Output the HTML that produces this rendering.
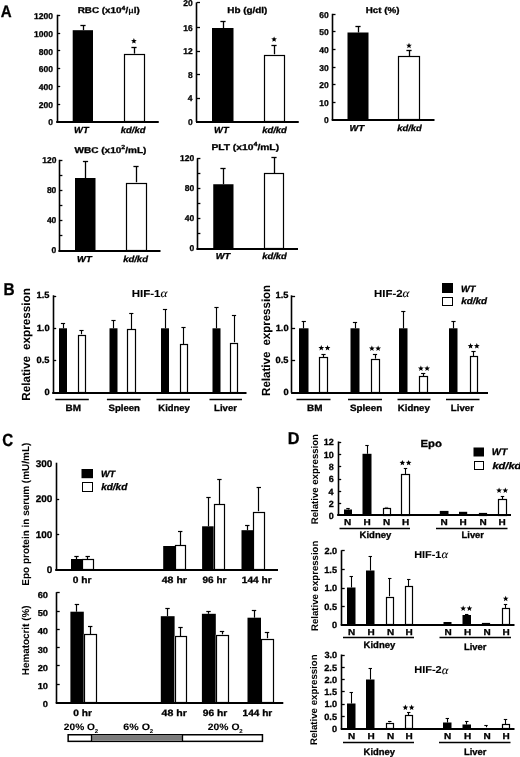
<!DOCTYPE html>
<html><head><meta charset="utf-8"><style>
html,body{margin:0;padding:0;background:#fff;width:520px;height:757px;overflow:hidden}
svg{display:block;filter:grayscale(1)}
text{stroke:#000;stroke-width:0.3px;text-rendering:geometricPrecision}
</style></head><body>
<svg width="520" height="757" viewBox="0 0 520 757">
<rect width="520" height="757" fill="#fff"/>
<text x="0.82" y="16.80" font-family="Liberation Sans" font-weight="bold" font-style="normal" font-size="16.666666666666668" textLength="10.89" lengthAdjust="spacingAndGlyphs">A</text>
<text x="3.40" y="294.50" font-family="Liberation Sans" font-weight="bold" font-style="normal" font-size="17.24637681159417" textLength="11.13" lengthAdjust="spacingAndGlyphs">B</text>
<text x="2.20" y="445.70" font-family="Liberation Sans" font-weight="bold" font-style="normal" font-size="17.714285714285683" textLength="10.92" lengthAdjust="spacingAndGlyphs">C</text>
<text x="287.74" y="443.50" font-family="Liberation Sans" font-weight="bold" font-style="normal" font-size="17.24637681159417" textLength="11.74" lengthAdjust="spacingAndGlyphs">D</text>
<line x1="57.5" y1="14.8" x2="57.5" y2="121.75" stroke="#000" stroke-width="1.6"/>
<line x1="57.0" y1="15.5" x2="60.2" y2="15.5" stroke="#000" stroke-width="1.3"/>
<line x1="57.0" y1="33.5" x2="60.2" y2="33.5" stroke="#000" stroke-width="1.3"/>
<line x1="57.0" y1="50.5" x2="60.2" y2="50.5" stroke="#000" stroke-width="1.3"/>
<line x1="57.0" y1="68.5" x2="60.2" y2="68.5" stroke="#000" stroke-width="1.3"/>
<line x1="57.0" y1="86.5" x2="60.2" y2="86.5" stroke="#000" stroke-width="1.3"/>
<line x1="57.0" y1="104.5" x2="60.2" y2="104.5" stroke="#000" stroke-width="1.3"/>
<text x="34.03" y="19.03" font-family="Liberation Sans" font-weight="bold" font-style="normal" font-size="8.5" textLength="18.91" lengthAdjust="spacingAndGlyphs">1200</text>
<text x="34.03" y="36.93" font-family="Liberation Sans" font-weight="bold" font-style="normal" font-size="8.5" textLength="18.91" lengthAdjust="spacingAndGlyphs">1000</text>
<text x="38.79" y="54.63" font-family="Liberation Sans" font-weight="bold" font-style="normal" font-size="8.5" textLength="14.18" lengthAdjust="spacingAndGlyphs">800</text>
<text x="38.79" y="72.33" font-family="Liberation Sans" font-weight="bold" font-style="normal" font-size="8.5" textLength="14.18" lengthAdjust="spacingAndGlyphs">600</text>
<text x="38.79" y="90.13" font-family="Liberation Sans" font-weight="bold" font-style="normal" font-size="8.5" textLength="14.18" lengthAdjust="spacingAndGlyphs">400</text>
<text x="38.79" y="108.03" font-family="Liberation Sans" font-weight="bold" font-style="normal" font-size="8.5" textLength="14.18" lengthAdjust="spacingAndGlyphs">200</text>
<text x="48.22" y="124.93" font-family="Liberation Sans" font-weight="bold" font-style="normal" font-size="8.5" textLength="4.73" lengthAdjust="spacingAndGlyphs">0</text>
<line x1="83.5" y1="25.5" x2="83.5" y2="30.2" stroke="#000" stroke-width="1.3"/>
<line x1="80.4" y1="25.5" x2="85.6" y2="25.5" stroke="#000" stroke-width="1.3"/>
<rect x="72.7" y="30.2" width="20.30" height="90.80" fill="#000"/>
<line x1="134.5" y1="47" x2="134.5" y2="53.8" stroke="#000" stroke-width="1.3"/>
<line x1="131.4" y1="47.5" x2="136.6" y2="47.5" stroke="#000" stroke-width="1.3"/>
<rect x="123.75" y="53.8" width="20.75" height="67.70" fill="#fff"/>
<rect x="124.5" y="54.5" width="20.0" height="67.0" fill="none" stroke="#000" stroke-width="1.2"/>
<line x1="56.2" y1="122" x2="158.75" y2="122" stroke="#000" stroke-width="2"/>
<polygon points="133.90,38.10 134.66,40.05 136.75,40.17 135.14,41.50 135.66,43.53 133.90,42.40 132.14,43.53 132.66,41.50 131.05,40.17 133.14,40.05" fill="#000"/>
<text x="74.10" y="132.50" font-family="Liberation Sans" font-weight="bold" font-style="italic" font-size="8.8" textLength="14.54" lengthAdjust="spacingAndGlyphs">WT</text>
<text x="120.86" y="132.50" font-family="Liberation Sans" font-weight="bold" font-style="italic" font-size="8.8" textLength="24.57" lengthAdjust="spacingAndGlyphs">kd/kd</text>
<text x="77.66" y="12.90" font-family="Liberation Sans" font-weight="bold" font-style="normal" font-size="8.40" textLength="43.91" lengthAdjust="spacingAndGlyphs">RBC (x10</text>
<text x="121.57" y="9.60" font-family="Liberation Sans" font-weight="bold" font-style="normal" font-size="5.88" textLength="3.85" lengthAdjust="spacingAndGlyphs">4</text>
<text x="125.42" y="12.90" font-family="Liberation Sans" font-weight="bold" font-style="normal" font-size="8.40" textLength="2.74" lengthAdjust="spacingAndGlyphs">/</text>
<text x="128.16" y="12.90" font-family="Liberation Serif" font-weight="normal" font-style="normal" font-size="8.82" textLength="5.56" lengthAdjust="spacingAndGlyphs">μ</text>
<text x="133.72" y="12.90" font-family="Liberation Sans" font-weight="bold" font-style="normal" font-size="8.40" textLength="6.03" lengthAdjust="spacingAndGlyphs">l)</text>
<line x1="196.5" y1="2.4" x2="196.5" y2="122" stroke="#000" stroke-width="1.6"/>
<line x1="196.8" y1="2.5" x2="200.0" y2="2.5" stroke="#000" stroke-width="1.3"/>
<line x1="196.8" y1="27.5" x2="200.0" y2="27.5" stroke="#000" stroke-width="1.3"/>
<line x1="196.8" y1="51.5" x2="200.0" y2="51.5" stroke="#000" stroke-width="1.3"/>
<line x1="196.8" y1="74.5" x2="200.0" y2="74.5" stroke="#000" stroke-width="1.3"/>
<line x1="196.8" y1="98.5" x2="200.0" y2="98.5" stroke="#000" stroke-width="1.3"/>
<text x="183.30" y="6.33" font-family="Liberation Sans" font-weight="bold" font-style="normal" font-size="8.5" textLength="9.45" lengthAdjust="spacingAndGlyphs">20</text>
<text x="183.26" y="30.53" font-family="Liberation Sans" font-weight="bold" font-style="normal" font-size="8.5" textLength="9.45" lengthAdjust="spacingAndGlyphs">16</text>
<text x="183.31" y="54.38" font-family="Liberation Sans" font-weight="bold" font-style="normal" font-size="8.5" textLength="9.45" lengthAdjust="spacingAndGlyphs">12</text>
<text x="187.94" y="77.73" font-family="Liberation Sans" font-weight="bold" font-style="normal" font-size="8.5" textLength="4.73" lengthAdjust="spacingAndGlyphs">8</text>
<text x="187.72" y="101.43" font-family="Liberation Sans" font-weight="bold" font-style="normal" font-size="8.5" textLength="4.73" lengthAdjust="spacingAndGlyphs">4</text>
<text x="188.02" y="124.53" font-family="Liberation Sans" font-weight="bold" font-style="normal" font-size="8.5" textLength="4.73" lengthAdjust="spacingAndGlyphs">0</text>
<line x1="223.5" y1="21.5" x2="223.5" y2="28" stroke="#000" stroke-width="1.3"/>
<line x1="220.4" y1="21.5" x2="225.6" y2="21.5" stroke="#000" stroke-width="1.3"/>
<rect x="212" y="28" width="21.50" height="93.50" fill="#000"/>
<line x1="274.5" y1="45.5" x2="274.5" y2="54.5" stroke="#000" stroke-width="1.3"/>
<line x1="271.4" y1="45.5" x2="276.6" y2="45.5" stroke="#000" stroke-width="1.3"/>
<rect x="263.5" y="54.5" width="21.00" height="67.50" fill="#fff"/>
<rect x="264.5" y="55.5" width="20.0" height="66.0" fill="none" stroke="#000" stroke-width="1.2"/>
<line x1="196.0" y1="122" x2="298.75" y2="122" stroke="#000" stroke-width="2"/>
<polygon points="274.10,36.40 274.86,38.35 276.95,38.47 275.34,39.80 275.86,41.83 274.10,40.70 272.34,41.83 272.86,39.80 271.25,38.47 273.34,38.35" fill="#000"/>
<text x="214.10" y="132.50" font-family="Liberation Sans" font-weight="bold" font-style="italic" font-size="8.8" textLength="14.54" lengthAdjust="spacingAndGlyphs">WT</text>
<text x="262.16" y="132.50" font-family="Liberation Sans" font-weight="bold" font-style="italic" font-size="8.8" textLength="24.67" lengthAdjust="spacingAndGlyphs">kd/kd</text>
<text x="227.26" y="13.10" font-family="Liberation Sans" font-weight="bold" font-style="normal" font-size="8.4" textLength="40.13" lengthAdjust="spacingAndGlyphs">Hb (g/dl)</text>
<line x1="332.5" y1="13.8" x2="332.5" y2="120" stroke="#000" stroke-width="1.6"/>
<line x1="332.3" y1="14.5" x2="335.5" y2="14.5" stroke="#000" stroke-width="1.3"/>
<line x1="332.3" y1="31.5" x2="335.5" y2="31.5" stroke="#000" stroke-width="1.3"/>
<line x1="332.3" y1="49.5" x2="335.5" y2="49.5" stroke="#000" stroke-width="1.3"/>
<line x1="332.3" y1="67.5" x2="335.5" y2="67.5" stroke="#000" stroke-width="1.3"/>
<line x1="332.3" y1="84.5" x2="335.5" y2="84.5" stroke="#000" stroke-width="1.3"/>
<line x1="332.3" y1="102.5" x2="335.5" y2="102.5" stroke="#000" stroke-width="1.3"/>
<text x="319.20" y="17.83" font-family="Liberation Sans" font-weight="bold" font-style="normal" font-size="8.5" textLength="9.45" lengthAdjust="spacingAndGlyphs">60</text>
<text x="319.21" y="35.48" font-family="Liberation Sans" font-weight="bold" font-style="normal" font-size="8.5" textLength="9.45" lengthAdjust="spacingAndGlyphs">50</text>
<text x="319.20" y="53.13" font-family="Liberation Sans" font-weight="bold" font-style="normal" font-size="8.5" textLength="9.45" lengthAdjust="spacingAndGlyphs">40</text>
<text x="319.21" y="70.78" font-family="Liberation Sans" font-weight="bold" font-style="normal" font-size="8.5" textLength="9.45" lengthAdjust="spacingAndGlyphs">30</text>
<text x="319.20" y="88.43" font-family="Liberation Sans" font-weight="bold" font-style="normal" font-size="8.5" textLength="9.45" lengthAdjust="spacingAndGlyphs">20</text>
<text x="319.21" y="106.08" font-family="Liberation Sans" font-weight="bold" font-style="normal" font-size="8.5" textLength="9.45" lengthAdjust="spacingAndGlyphs">10</text>
<text x="323.92" y="123.13" font-family="Liberation Sans" font-weight="bold" font-style="normal" font-size="8.5" textLength="4.73" lengthAdjust="spacingAndGlyphs">0</text>
<line x1="358.5" y1="26.2" x2="358.5" y2="32.5" stroke="#000" stroke-width="1.3"/>
<line x1="355.4" y1="26.5" x2="360.6" y2="26.5" stroke="#000" stroke-width="1.3"/>
<rect x="347.5" y="32.5" width="21.00" height="87.00" fill="#000"/>
<line x1="409.5" y1="50.6" x2="409.5" y2="56.0" stroke="#000" stroke-width="1.3"/>
<line x1="406.4" y1="50.5" x2="411.6" y2="50.5" stroke="#000" stroke-width="1.3"/>
<rect x="398.1" y="56.0" width="21.50" height="64.00" fill="#fff"/>
<rect x="398.5" y="56.5" width="21.0" height="63.0" fill="none" stroke="#000" stroke-width="1.2"/>
<line x1="331.7" y1="120" x2="434.5" y2="120" stroke="#000" stroke-width="2"/>
<polygon points="409.00,42.70 409.76,44.65 411.85,44.77 410.24,46.10 410.76,48.13 409.00,47.00 407.24,48.13 407.76,46.10 406.15,44.77 408.24,44.65" fill="#000"/>
<text x="349.60" y="130.60" font-family="Liberation Sans" font-weight="bold" font-style="italic" font-size="8.6" textLength="14.54" lengthAdjust="spacingAndGlyphs">WT</text>
<text x="397.26" y="130.60" font-family="Liberation Sans" font-weight="bold" font-style="italic" font-size="8.6" textLength="24.47" lengthAdjust="spacingAndGlyphs">kd/kd</text>
<text x="365.76" y="13.10" font-family="Liberation Sans" font-weight="bold" font-style="normal" font-size="8.4" textLength="33.72" lengthAdjust="spacingAndGlyphs">Hct (%)</text>
<line x1="59.5" y1="159.8" x2="59.5" y2="250.5" stroke="#000" stroke-width="1.6"/>
<line x1="59.2" y1="160.5" x2="62.400000000000006" y2="160.5" stroke="#000" stroke-width="1.3"/>
<line x1="59.2" y1="175.5" x2="62.400000000000006" y2="175.5" stroke="#000" stroke-width="1.3"/>
<line x1="59.2" y1="190.5" x2="62.400000000000006" y2="190.5" stroke="#000" stroke-width="1.3"/>
<line x1="59.2" y1="205.5" x2="62.400000000000006" y2="205.5" stroke="#000" stroke-width="1.3"/>
<line x1="59.2" y1="220.5" x2="62.400000000000006" y2="220.5" stroke="#000" stroke-width="1.3"/>
<line x1="59.2" y1="235.5" x2="62.400000000000006" y2="235.5" stroke="#000" stroke-width="1.3"/>
<text x="42.19" y="163.13" font-family="Liberation Sans" font-weight="bold" font-style="normal" font-size="8.5" textLength="14.18" lengthAdjust="spacingAndGlyphs">120</text>
<text x="46.90" y="193.13" font-family="Liberation Sans" font-weight="bold" font-style="normal" font-size="8.5" textLength="9.45" lengthAdjust="spacingAndGlyphs">80</text>
<text x="46.91" y="223.13" font-family="Liberation Sans" font-weight="bold" font-style="normal" font-size="8.5" textLength="9.45" lengthAdjust="spacingAndGlyphs">40</text>
<text x="51.62" y="252.93" font-family="Liberation Sans" font-weight="bold" font-style="normal" font-size="8.5" textLength="4.73" lengthAdjust="spacingAndGlyphs">0</text>
<line x1="85.5" y1="161" x2="85.5" y2="178" stroke="#000" stroke-width="1.3"/>
<line x1="82.9" y1="161.5" x2="88.1" y2="161.5" stroke="#000" stroke-width="1.3"/>
<rect x="75" y="178" width="20.50" height="72.50" fill="#000"/>
<line x1="136.5" y1="166.5" x2="136.5" y2="182.5" stroke="#000" stroke-width="1.3"/>
<line x1="133.4" y1="166.5" x2="138.6" y2="166.5" stroke="#000" stroke-width="1.3"/>
<rect x="125.5" y="182.5" width="21.30" height="68.50" fill="#fff"/>
<rect x="126.5" y="183.5" width="20.0" height="67.0" fill="none" stroke="#000" stroke-width="1.2"/>
<line x1="58.400000000000006" y1="251" x2="160.5" y2="251" stroke="#000" stroke-width="2"/>
<text x="77.09" y="261.50" font-family="Liberation Sans" font-weight="bold" font-style="italic" font-size="8.6" textLength="14.64" lengthAdjust="spacingAndGlyphs">WT</text>
<text x="123.16" y="261.50" font-family="Liberation Sans" font-weight="bold" font-style="italic" font-size="8.6" textLength="24.77" lengthAdjust="spacingAndGlyphs">kd/kd</text>
<text x="74.50" y="152.50" font-family="Liberation Sans" font-weight="bold" font-style="normal" font-size="8.40" textLength="46.86" lengthAdjust="spacingAndGlyphs">WBC (x10</text>
<text x="121.36" y="149.20" font-family="Liberation Sans" font-weight="bold" font-style="normal" font-size="5.88" textLength="3.91" lengthAdjust="spacingAndGlyphs">2</text>
<text x="125.27" y="152.50" font-family="Liberation Sans" font-weight="bold" font-style="normal" font-size="8.40" textLength="21.19" lengthAdjust="spacingAndGlyphs">/mL)</text>
<line x1="197.5" y1="158.25" x2="197.5" y2="248.5" stroke="#000" stroke-width="1.6"/>
<line x1="197.2" y1="158.5" x2="200.39999999999998" y2="158.5" stroke="#000" stroke-width="1.3"/>
<line x1="197.2" y1="173.5" x2="200.39999999999998" y2="173.5" stroke="#000" stroke-width="1.3"/>
<line x1="197.2" y1="188.5" x2="200.39999999999998" y2="188.5" stroke="#000" stroke-width="1.3"/>
<line x1="197.2" y1="203.5" x2="200.39999999999998" y2="203.5" stroke="#000" stroke-width="1.3"/>
<line x1="197.2" y1="218.5" x2="200.39999999999998" y2="218.5" stroke="#000" stroke-width="1.3"/>
<line x1="197.2" y1="233.5" x2="200.39999999999998" y2="233.5" stroke="#000" stroke-width="1.3"/>
<text x="180.09" y="161.38" font-family="Liberation Sans" font-weight="bold" font-style="normal" font-size="8.5" textLength="14.18" lengthAdjust="spacingAndGlyphs">120</text>
<text x="184.81" y="191.03" font-family="Liberation Sans" font-weight="bold" font-style="normal" font-size="8.5" textLength="9.45" lengthAdjust="spacingAndGlyphs">80</text>
<text x="184.81" y="220.83" font-family="Liberation Sans" font-weight="bold" font-style="normal" font-size="8.5" textLength="9.45" lengthAdjust="spacingAndGlyphs">40</text>
<text x="189.52" y="251.23" font-family="Liberation Sans" font-weight="bold" font-style="normal" font-size="8.5" textLength="4.73" lengthAdjust="spacingAndGlyphs">0</text>
<line x1="223.5" y1="168" x2="223.5" y2="184.25" stroke="#000" stroke-width="1.3"/>
<line x1="220.4" y1="168.5" x2="225.6" y2="168.5" stroke="#000" stroke-width="1.3"/>
<rect x="213.25" y="184.25" width="20.25" height="63.75" fill="#000"/>
<line x1="274.5" y1="157.5" x2="274.5" y2="173.25" stroke="#000" stroke-width="1.3"/>
<line x1="271.4" y1="157.5" x2="276.6" y2="157.5" stroke="#000" stroke-width="1.3"/>
<rect x="263.5" y="173.25" width="20.50" height="75.25" fill="#fff"/>
<rect x="264.5" y="173.5" width="19.0" height="75.0" fill="none" stroke="#000" stroke-width="1.2"/>
<line x1="196.39999999999998" y1="249" x2="298" y2="249" stroke="#000" stroke-width="2"/>
<text x="215.80" y="259.20" font-family="Liberation Sans" font-weight="bold" font-style="italic" font-size="8.6" textLength="14.54" lengthAdjust="spacingAndGlyphs">WT</text>
<text x="262.26" y="259.20" font-family="Liberation Sans" font-weight="bold" font-style="italic" font-size="8.6" textLength="24.47" lengthAdjust="spacingAndGlyphs">kd/kd</text>
<text x="211.43" y="149.50" font-family="Liberation Sans" font-weight="bold" font-style="normal" font-size="8.40" textLength="41.99" lengthAdjust="spacingAndGlyphs">PLT (x10</text>
<text x="253.43" y="146.20" font-family="Liberation Sans" font-weight="bold" font-style="normal" font-size="5.88" textLength="3.99" lengthAdjust="spacingAndGlyphs">4</text>
<text x="257.42" y="149.50" font-family="Liberation Sans" font-weight="bold" font-style="normal" font-size="8.40" textLength="21.65" lengthAdjust="spacingAndGlyphs">/mL)</text>
<text x="36.55" y="298.46" font-family="Liberation Sans" font-weight="bold" font-style="normal" font-size="9.0" textLength="12.89" lengthAdjust="spacingAndGlyphs">1.5</text>
<text x="36.69" y="330.81" font-family="Liberation Sans" font-weight="bold" font-style="normal" font-size="9.0" textLength="12.89" lengthAdjust="spacingAndGlyphs">1.0</text>
<text x="36.55" y="363.11" font-family="Liberation Sans" font-weight="bold" font-style="normal" font-size="9.0" textLength="12.89" lengthAdjust="spacingAndGlyphs">0.5</text>
<text x="44.43" y="395.21" font-family="Liberation Sans" font-weight="bold" font-style="normal" font-size="9.0" textLength="5.16" lengthAdjust="spacingAndGlyphs">0</text>
<text transform="rotate(-90)" x="-400.76" y="29.70" font-family="Liberation Sans" font-weight="bold" font-style="normal" font-size="11.7" textLength="44.77" lengthAdjust="spacingAndGlyphs" style="stroke-width:0.05px">Relative</text>
<text transform="rotate(-90)" x="-349.97" y="29.70" font-family="Liberation Sans" font-weight="bold" font-style="normal" font-size="11.7" textLength="61.88" lengthAdjust="spacingAndGlyphs" style="stroke-width:0.05px">expression</text>
<line x1="53.5" y1="295.3" x2="53.5" y2="392.7" stroke="#000" stroke-width="1.6"/>
<line x1="53.0" y1="296.5" x2="56.2" y2="296.5" stroke="#000" stroke-width="1.3"/>
<line x1="53.0" y1="328.5" x2="56.2" y2="328.5" stroke="#000" stroke-width="1.3"/>
<line x1="53.0" y1="360.5" x2="56.2" y2="360.5" stroke="#000" stroke-width="1.3"/>
<line x1="63.5" y1="323.5" x2="63.5" y2="328.3" stroke="#000" stroke-width="1.15"/>
<line x1="60.9" y1="323.5" x2="65.1" y2="323.5" stroke="#000" stroke-width="1.15"/>
<rect x="59" y="328.3" width="8.00" height="63.70" fill="#000"/>
<line x1="81.5" y1="330.5" x2="81.5" y2="334.5" stroke="#000" stroke-width="1.15"/>
<line x1="79.4" y1="330.5" x2="83.6" y2="330.5" stroke="#000" stroke-width="1.15"/>
<rect x="77.5" y="334.5" width="8.00" height="58.00" fill="#fff"/>
<rect x="78.5" y="335.5" width="7.0" height="57.0" fill="none" stroke="#000" stroke-width="1.2"/>
<line x1="113.5" y1="320.8" x2="113.5" y2="328.3" stroke="#000" stroke-width="1.15"/>
<line x1="111.4" y1="320.5" x2="115.6" y2="320.5" stroke="#000" stroke-width="1.15"/>
<rect x="109.5" y="328.3" width="8.00" height="63.70" fill="#000"/>
<line x1="131.5" y1="313.5" x2="131.5" y2="329.4" stroke="#000" stroke-width="1.15"/>
<line x1="129.20000000000002" y1="313.5" x2="133.4" y2="313.5" stroke="#000" stroke-width="1.15"/>
<rect x="127.4" y="329.4" width="8.10" height="63.10" fill="#fff"/>
<rect x="127.5" y="329.5" width="8.0" height="63.0" fill="none" stroke="#000" stroke-width="1.2"/>
<line x1="165.5" y1="309" x2="165.5" y2="328.3" stroke="#000" stroke-width="1.15"/>
<line x1="162.9" y1="309.5" x2="167.1" y2="309.5" stroke="#000" stroke-width="1.15"/>
<rect x="161" y="328.3" width="8.00" height="63.70" fill="#000"/>
<line x1="183.5" y1="327.5" x2="183.5" y2="344.2" stroke="#000" stroke-width="1.15"/>
<line x1="181.4" y1="327.5" x2="185.6" y2="327.5" stroke="#000" stroke-width="1.15"/>
<rect x="179.5" y="344.2" width="8.00" height="48.30" fill="#fff"/>
<rect x="180.5" y="344.5" width="7.0" height="48.0" fill="none" stroke="#000" stroke-width="1.2"/>
<line x1="216.5" y1="307.5" x2="216.5" y2="328.3" stroke="#000" stroke-width="1.15"/>
<line x1="214.4" y1="307.5" x2="218.6" y2="307.5" stroke="#000" stroke-width="1.15"/>
<rect x="212.5" y="328.3" width="8.00" height="63.70" fill="#000"/>
<line x1="234.5" y1="315" x2="234.5" y2="342.5" stroke="#000" stroke-width="1.15"/>
<line x1="231.9" y1="315.5" x2="236.1" y2="315.5" stroke="#000" stroke-width="1.15"/>
<rect x="230" y="342.5" width="8.00" height="50.00" fill="#fff"/>
<rect x="230.5" y="343.5" width="7.0" height="49.0" fill="none" stroke="#000" stroke-width="1.2"/>
<line x1="52.2" y1="393" x2="246.5" y2="393" stroke="#000" stroke-width="2"/>
<line x1="55.3" y1="399.5" x2="88.8" y2="399.5" stroke="#000" stroke-width="1.7"/>
<line x1="106.9" y1="399.5" x2="140.6" y2="399.5" stroke="#000" stroke-width="1.7"/>
<line x1="156.5" y1="399.5" x2="190" y2="399.5" stroke="#000" stroke-width="1.7"/>
<line x1="209.5" y1="399.5" x2="242" y2="399.5" stroke="#000" stroke-width="1.7"/>
<text x="65.55" y="411.30" font-family="Liberation Sans" font-weight="bold" font-style="normal" font-size="9.2" textLength="15.44" lengthAdjust="spacingAndGlyphs">BM</text>
<text x="108.51" y="411.30" font-family="Liberation Sans" font-weight="bold" font-style="normal" font-size="9.2" textLength="31.45" lengthAdjust="spacingAndGlyphs">Spleen</text>
<text x="158.39" y="411.30" font-family="Liberation Sans" font-weight="bold" font-style="normal" font-size="9.2" textLength="31.45" lengthAdjust="spacingAndGlyphs">Kidney</text>
<text x="214.08" y="411.30" font-family="Liberation Sans" font-weight="bold" font-style="normal" font-size="9.2" textLength="22.87" lengthAdjust="spacingAndGlyphs">Liver</text>
<text x="131.65" y="297.00" font-family="Liberation Sans" font-weight="bold" font-style="normal" font-size="10.20" textLength="28.80" lengthAdjust="spacingAndGlyphs" style="stroke-width:0.1px">HIF-1</text>
<text x="160.45" y="297.20" font-family="Liberation Serif" font-weight="normal" font-style="italic" font-size="11.73" textLength="6.95" lengthAdjust="spacingAndGlyphs" style="stroke-width:0.1px">α</text>
<text x="275.55" y="298.46" font-family="Liberation Sans" font-weight="bold" font-style="normal" font-size="9.0" textLength="12.89" lengthAdjust="spacingAndGlyphs">1.5</text>
<text x="275.69" y="330.81" font-family="Liberation Sans" font-weight="bold" font-style="normal" font-size="9.0" textLength="12.89" lengthAdjust="spacingAndGlyphs">1.0</text>
<text x="275.55" y="363.11" font-family="Liberation Sans" font-weight="bold" font-style="normal" font-size="9.0" textLength="12.89" lengthAdjust="spacingAndGlyphs">0.5</text>
<text x="283.43" y="395.21" font-family="Liberation Sans" font-weight="bold" font-style="normal" font-size="9.0" textLength="5.16" lengthAdjust="spacingAndGlyphs">0</text>
<text transform="rotate(-90)" x="-395.95" y="269.50" font-family="Liberation Sans" font-weight="bold" font-style="normal" font-size="11.7" textLength="44.36" lengthAdjust="spacingAndGlyphs" style="stroke-width:0.05px">Relative</text>
<text transform="rotate(-90)" x="-345.56" y="269.50" font-family="Liberation Sans" font-weight="bold" font-style="normal" font-size="11.7" textLength="60.65" lengthAdjust="spacingAndGlyphs" style="stroke-width:0.05px">expression</text>
<line x1="291.5" y1="295.3" x2="291.5" y2="392.7" stroke="#000" stroke-width="1.6"/>
<line x1="291.9" y1="296.5" x2="295.09999999999997" y2="296.5" stroke="#000" stroke-width="1.3"/>
<line x1="291.9" y1="328.5" x2="295.09999999999997" y2="328.5" stroke="#000" stroke-width="1.3"/>
<line x1="291.9" y1="360.5" x2="295.09999999999997" y2="360.5" stroke="#000" stroke-width="1.3"/>
<line x1="303.5" y1="321.8" x2="303.5" y2="328.3" stroke="#000" stroke-width="1.15"/>
<line x1="301.7" y1="321.5" x2="305.90000000000003" y2="321.5" stroke="#000" stroke-width="1.15"/>
<rect x="299" y="328.3" width="9.50" height="63.70" fill="#000"/>
<line x1="323.5" y1="354.5" x2="323.5" y2="357" stroke="#000" stroke-width="1.15"/>
<line x1="321.4" y1="354.5" x2="325.6" y2="354.5" stroke="#000" stroke-width="1.15"/>
<rect x="319" y="357" width="9.00" height="35.50" fill="#fff"/>
<rect x="319.5" y="357.5" width="8.0" height="35.0" fill="none" stroke="#000" stroke-width="1.2"/>
<line x1="355.5" y1="322.5" x2="355.5" y2="328.3" stroke="#000" stroke-width="1.15"/>
<line x1="352.9" y1="322.5" x2="357.1" y2="322.5" stroke="#000" stroke-width="1.15"/>
<rect x="350.5" y="328.3" width="9.00" height="63.70" fill="#000"/>
<line x1="375.5" y1="354" x2="375.5" y2="358.8" stroke="#000" stroke-width="1.15"/>
<line x1="372.9" y1="354.5" x2="377.1" y2="354.5" stroke="#000" stroke-width="1.15"/>
<rect x="370.5" y="358.8" width="9.00" height="33.70" fill="#fff"/>
<rect x="371.5" y="359.5" width="8.0" height="33.0" fill="none" stroke="#000" stroke-width="1.2"/>
<line x1="403.5" y1="311.2" x2="403.5" y2="328.3" stroke="#000" stroke-width="1.15"/>
<line x1="401.2" y1="311.5" x2="405.40000000000003" y2="311.5" stroke="#000" stroke-width="1.15"/>
<rect x="399" y="328.3" width="8.50" height="63.70" fill="#000"/>
<line x1="423.5" y1="373.5" x2="423.5" y2="376.2" stroke="#000" stroke-width="1.15"/>
<line x1="421.09999999999997" y1="373.5" x2="425.3" y2="373.5" stroke="#000" stroke-width="1.15"/>
<rect x="419" y="376.2" width="8.50" height="16.30" fill="#fff"/>
<rect x="419.5" y="376.5" width="8.0" height="16.0" fill="none" stroke="#000" stroke-width="1.2"/>
<line x1="453.5" y1="321" x2="453.5" y2="328.3" stroke="#000" stroke-width="1.15"/>
<line x1="451.4" y1="321.5" x2="455.6" y2="321.5" stroke="#000" stroke-width="1.15"/>
<rect x="449" y="328.3" width="8.50" height="63.70" fill="#000"/>
<line x1="473.5" y1="351.8" x2="473.5" y2="356.2" stroke="#000" stroke-width="1.15"/>
<line x1="471.4" y1="351.5" x2="475.6" y2="351.5" stroke="#000" stroke-width="1.15"/>
<rect x="469.5" y="356.2" width="8.00" height="36.30" fill="#fff"/>
<rect x="470.5" y="356.5" width="7.0" height="36.0" fill="none" stroke="#000" stroke-width="1.2"/>
<line x1="291.09999999999997" y1="393" x2="488" y2="393" stroke="#000" stroke-width="2"/>
<line x1="296.5" y1="399.5" x2="330.5" y2="399.5" stroke="#000" stroke-width="1.7"/>
<line x1="348" y1="399.5" x2="382" y2="399.5" stroke="#000" stroke-width="1.7"/>
<line x1="397.5" y1="399.5" x2="430.5" y2="399.5" stroke="#000" stroke-width="1.7"/>
<line x1="446" y1="399.5" x2="479.5" y2="399.5" stroke="#000" stroke-width="1.7"/>
<text x="307.05" y="411.30" font-family="Liberation Sans" font-weight="bold" font-style="normal" font-size="9.2" textLength="15.44" lengthAdjust="spacingAndGlyphs">BM</text>
<text x="349.90" y="411.30" font-family="Liberation Sans" font-weight="bold" font-style="normal" font-size="9.2" textLength="32.28" lengthAdjust="spacingAndGlyphs">Spleen</text>
<text x="397.77" y="411.30" font-family="Liberation Sans" font-weight="bold" font-style="normal" font-size="9.2" textLength="32.06" lengthAdjust="spacingAndGlyphs">Kidney</text>
<text x="450.87" y="411.30" font-family="Liberation Sans" font-weight="bold" font-style="normal" font-size="9.2" textLength="23.07" lengthAdjust="spacingAndGlyphs">Liver</text>
<polygon points="321.27,345.00 322.04,346.95 324.13,347.07 322.51,348.40 323.04,350.43 321.27,349.30 319.51,350.43 320.04,348.40 318.42,347.07 320.51,346.95" fill="#000"/>
<polygon points="327.52,345.00 328.29,346.95 330.38,347.07 328.76,348.40 329.29,350.43 327.52,349.30 325.76,350.43 326.29,348.40 324.67,347.07 326.76,346.95" fill="#000"/>
<polygon points="371.88,345.50 372.64,347.45 374.73,347.57 373.11,348.90 373.64,350.93 371.88,349.80 370.11,350.93 370.64,348.90 369.02,347.57 371.11,347.45" fill="#000"/>
<polygon points="378.12,345.50 378.89,347.45 380.98,347.57 379.36,348.90 379.89,350.93 378.12,349.80 376.36,350.93 376.89,348.90 375.27,347.57 377.36,347.45" fill="#000"/>
<polygon points="420.88,365.50 421.64,367.45 423.73,367.57 422.11,368.90 422.64,370.93 420.88,369.80 419.11,370.93 419.64,368.90 418.02,367.57 420.11,367.45" fill="#000"/>
<polygon points="427.12,365.50 427.89,367.45 429.98,367.57 428.36,368.90 428.89,370.93 427.12,369.80 425.36,370.93 425.89,368.90 424.27,367.57 426.36,367.45" fill="#000"/>
<polygon points="470.57,343.10 471.34,345.05 473.43,345.17 471.81,346.50 472.34,348.53 470.57,347.40 468.81,348.53 469.34,346.50 467.72,345.17 469.81,345.05" fill="#000"/>
<polygon points="476.82,343.10 477.59,345.05 479.68,345.17 478.06,346.50 478.59,348.53 476.82,347.40 475.06,348.53 475.59,346.50 473.97,345.17 476.06,345.05" fill="#000"/>
<text x="374.06" y="296.80" font-family="Liberation Sans" font-weight="bold" font-style="normal" font-size="10.20" textLength="28.47" lengthAdjust="spacingAndGlyphs" style="stroke-width:0.1px">HIF-2</text>
<text x="402.53" y="297.00" font-family="Liberation Serif" font-weight="normal" font-style="italic" font-size="11.73" textLength="6.87" lengthAdjust="spacingAndGlyphs" style="stroke-width:0.1px">α</text>
<rect x="442" y="283" width="11.00" height="10.00" fill="#000"/>
<text x="461.10" y="291.70" font-family="Liberation Sans" font-weight="bold" font-style="italic" font-size="9.2" textLength="14.44" lengthAdjust="spacingAndGlyphs">WT</text>
<rect x="442" y="296.8" width="11.00" height="8.80" fill="#fff"/>
<rect x="442.5" y="297.5" width="10.0" height="8.0" fill="none" stroke="#000" stroke-width="1"/>
<text x="461.25" y="303.60" font-family="Liberation Sans" font-weight="bold" font-style="italic" font-size="9.2" textLength="25.77" lengthAdjust="spacingAndGlyphs">kd/kd</text>
<text transform="rotate(-90)" x="-585.65" y="28.80" font-family="Liberation Sans" font-weight="bold" font-style="normal" font-size="10.0" textLength="142.94" lengthAdjust="spacingAndGlyphs" style="stroke-width:0.05px">Epo protein in serum (mU/mL)</text>
<line x1="56.5" y1="462.7" x2="56.5" y2="570" stroke="#000" stroke-width="1.6"/>
<line x1="56.0" y1="499.5" x2="59.2" y2="499.5" stroke="#000" stroke-width="1.3"/>
<line x1="56.0" y1="534.5" x2="59.2" y2="534.5" stroke="#000" stroke-width="1.3"/>
<text x="35.76" y="466.68" font-family="Liberation Sans" font-weight="bold" font-style="normal" font-size="9.8" textLength="16.68" lengthAdjust="spacingAndGlyphs">300</text>
<text x="35.76" y="502.18" font-family="Liberation Sans" font-weight="bold" font-style="normal" font-size="9.8" textLength="16.68" lengthAdjust="spacingAndGlyphs">200</text>
<text x="35.76" y="537.68" font-family="Liberation Sans" font-weight="bold" font-style="normal" font-size="9.8" textLength="16.68" lengthAdjust="spacingAndGlyphs">100</text>
<text x="46.85" y="572.88" font-family="Liberation Sans" font-weight="bold" font-style="normal" font-size="9.8" textLength="5.56" lengthAdjust="spacingAndGlyphs">0</text>
<line x1="76.5" y1="556.5" x2="76.5" y2="559" stroke="#000" stroke-width="1.2"/>
<line x1="74.3" y1="556.5" x2="78.7" y2="556.5" stroke="#000" stroke-width="1.2"/>
<rect x="71" y="559" width="11.00" height="10.50" fill="#000"/>
<line x1="87.5" y1="556.5" x2="87.5" y2="559" stroke="#000" stroke-width="1.2"/>
<line x1="85.5" y1="556.5" x2="89.9" y2="556.5" stroke="#000" stroke-width="1.2"/>
<rect x="82" y="559" width="11.50" height="11.00" fill="#fff"/>
<rect x="82.5" y="559.5" width="11.0" height="10.0" fill="none" stroke="#000" stroke-width="1.2"/>
<rect x="163.2" y="546" width="11.80" height="23.50" fill="#000"/>
<line x1="180.5" y1="531.5" x2="180.5" y2="545" stroke="#000" stroke-width="1.2"/>
<line x1="178.0" y1="531.5" x2="182.39999999999998" y2="531.5" stroke="#000" stroke-width="1.2"/>
<rect x="175" y="545" width="11.00" height="25.00" fill="#fff"/>
<rect x="175.5" y="545.5" width="10.0" height="24.0" fill="none" stroke="#000" stroke-width="1.2"/>
<line x1="208.5" y1="497.1" x2="208.5" y2="526.3" stroke="#000" stroke-width="1.2"/>
<line x1="206.3" y1="497.5" x2="210.7" y2="497.5" stroke="#000" stroke-width="1.2"/>
<rect x="202.1" y="526.3" width="11.70" height="43.20" fill="#000"/>
<line x1="219.5" y1="479" x2="219.5" y2="504.2" stroke="#000" stroke-width="1.2"/>
<line x1="217.20000000000002" y1="479.5" x2="221.6" y2="479.5" stroke="#000" stroke-width="1.2"/>
<rect x="213.8" y="504.2" width="11.60" height="65.80" fill="#fff"/>
<rect x="214.5" y="504.5" width="10.0" height="65.0" fill="none" stroke="#000" stroke-width="1.2"/>
<line x1="247.5" y1="525.2" x2="247.5" y2="530.2" stroke="#000" stroke-width="1.2"/>
<line x1="245.10000000000002" y1="525.5" x2="249.5" y2="525.5" stroke="#000" stroke-width="1.2"/>
<rect x="241.5" y="530.2" width="11.60" height="39.30" fill="#000"/>
<line x1="258.5" y1="487.1" x2="258.5" y2="511.5" stroke="#000" stroke-width="1.2"/>
<line x1="256.6" y1="487.5" x2="261.0" y2="487.5" stroke="#000" stroke-width="1.2"/>
<rect x="253.1" y="511.5" width="11.50" height="58.50" fill="#fff"/>
<rect x="253.5" y="512.5" width="11.0" height="57.0" fill="none" stroke="#000" stroke-width="1.2"/>
<line x1="55.2" y1="570" x2="278" y2="570" stroke="#000" stroke-width="2"/>
<text x="72.79" y="582.80" font-family="Liberation Sans" font-weight="bold" font-style="normal" font-size="9.2" textLength="18.65" lengthAdjust="spacingAndGlyphs">0 hr</text>
<text x="161.74" y="582.80" font-family="Liberation Sans" font-weight="bold" font-style="normal" font-size="9.2" textLength="25.22" lengthAdjust="spacingAndGlyphs">48 hr</text>
<text x="202.55" y="582.80" font-family="Liberation Sans" font-weight="bold" font-style="normal" font-size="9.2" textLength="23.90" lengthAdjust="spacingAndGlyphs">96 hr</text>
<text x="241.89" y="582.80" font-family="Liberation Sans" font-weight="bold" font-style="normal" font-size="9.2" textLength="29.77" lengthAdjust="spacingAndGlyphs">144 hr</text>
<rect x="81.5" y="469" width="11.50" height="9.20" fill="#000"/>
<text x="100.91" y="477.10" font-family="Liberation Sans" font-weight="bold" font-style="italic" font-size="9.2" textLength="14.24" lengthAdjust="spacingAndGlyphs">WT</text>
<rect x="82.2" y="482.4" width="10.80" height="9.60" fill="#fff"/>
<rect x="82.5" y="482.5" width="10.0" height="9.0" fill="none" stroke="#000" stroke-width="1"/>
<text x="101.15" y="489.60" font-family="Liberation Sans" font-weight="bold" font-style="italic" font-size="9.6" textLength="26.17" lengthAdjust="spacingAndGlyphs">kd/kd</text>
<text transform="rotate(-90)" x="-675.14" y="29.10" font-family="Liberation Sans" font-weight="bold" font-style="normal" font-size="10.0" textLength="69.60" lengthAdjust="spacingAndGlyphs" style="stroke-width:0.05px">Hematocrit (%)</text>
<line x1="56.5" y1="592.2" x2="56.5" y2="703" stroke="#000" stroke-width="1.6"/>
<line x1="56.5" y1="592.5" x2="59.7" y2="592.5" stroke="#000" stroke-width="1.3"/>
<line x1="56.5" y1="611.5" x2="59.7" y2="611.5" stroke="#000" stroke-width="1.3"/>
<line x1="56.5" y1="629.5" x2="59.7" y2="629.5" stroke="#000" stroke-width="1.3"/>
<line x1="56.5" y1="647.5" x2="59.7" y2="647.5" stroke="#000" stroke-width="1.3"/>
<line x1="56.5" y1="665.5" x2="59.7" y2="665.5" stroke="#000" stroke-width="1.3"/>
<line x1="56.5" y1="684.5" x2="59.7" y2="684.5" stroke="#000" stroke-width="1.3"/>
<text x="37.66" y="597.67" font-family="Liberation Sans" font-weight="bold" font-style="normal" font-size="8.6" textLength="10.33" lengthAdjust="spacingAndGlyphs">60</text>
<text x="37.66" y="615.97" font-family="Liberation Sans" font-weight="bold" font-style="normal" font-size="8.6" textLength="10.33" lengthAdjust="spacingAndGlyphs">50</text>
<text x="37.66" y="634.27" font-family="Liberation Sans" font-weight="bold" font-style="normal" font-size="8.6" textLength="10.33" lengthAdjust="spacingAndGlyphs">40</text>
<text x="37.66" y="652.57" font-family="Liberation Sans" font-weight="bold" font-style="normal" font-size="8.6" textLength="10.33" lengthAdjust="spacingAndGlyphs">30</text>
<text x="37.66" y="670.87" font-family="Liberation Sans" font-weight="bold" font-style="normal" font-size="8.6" textLength="10.33" lengthAdjust="spacingAndGlyphs">20</text>
<text x="37.66" y="689.17" font-family="Liberation Sans" font-weight="bold" font-style="normal" font-size="8.6" textLength="10.33" lengthAdjust="spacingAndGlyphs">10</text>
<text x="42.82" y="707.47" font-family="Liberation Sans" font-weight="bold" font-style="normal" font-size="8.6" textLength="5.17" lengthAdjust="spacingAndGlyphs">0</text>
<line x1="76.5" y1="604.4" x2="76.5" y2="611.7" stroke="#000" stroke-width="1.2"/>
<line x1="74.7" y1="604.5" x2="79.10000000000001" y2="604.5" stroke="#000" stroke-width="1.2"/>
<rect x="70.4" y="611.7" width="13.40" height="90.80" fill="#000"/>
<line x1="90.5" y1="626.5" x2="90.5" y2="634.2" stroke="#000" stroke-width="1.2"/>
<line x1="88.0" y1="626.5" x2="92.4" y2="626.5" stroke="#000" stroke-width="1.2"/>
<rect x="83.8" y="634.2" width="12.90" height="68.80" fill="#fff"/>
<rect x="84.5" y="634.5" width="12.0" height="68.0" fill="none" stroke="#000" stroke-width="1.2"/>
<line x1="167.5" y1="608.8" x2="167.5" y2="616.2" stroke="#000" stroke-width="1.2"/>
<line x1="165.3" y1="608.5" x2="169.7" y2="608.5" stroke="#000" stroke-width="1.2"/>
<rect x="160.8" y="616.2" width="13.80" height="86.30" fill="#000"/>
<line x1="180.5" y1="627.5" x2="180.5" y2="636.2" stroke="#000" stroke-width="1.2"/>
<line x1="178.3" y1="627.5" x2="182.7" y2="627.5" stroke="#000" stroke-width="1.2"/>
<rect x="174.6" y="636.2" width="12.40" height="66.80" fill="#fff"/>
<rect x="175.5" y="636.5" width="11.0" height="66.0" fill="none" stroke="#000" stroke-width="1.2"/>
<line x1="208.5" y1="611" x2="208.5" y2="613.8" stroke="#000" stroke-width="1.2"/>
<line x1="206.3" y1="611.5" x2="210.7" y2="611.5" stroke="#000" stroke-width="1.2"/>
<rect x="201.9" y="613.8" width="13.90" height="88.70" fill="#000"/>
<line x1="222.5" y1="631.3" x2="222.5" y2="634.6" stroke="#000" stroke-width="1.2"/>
<line x1="219.8" y1="631.5" x2="224.2" y2="631.5" stroke="#000" stroke-width="1.2"/>
<rect x="215.8" y="634.6" width="12.90" height="68.40" fill="#fff"/>
<rect x="216.5" y="635.5" width="12.0" height="67.0" fill="none" stroke="#000" stroke-width="1.2"/>
<line x1="254.5" y1="610.2" x2="254.5" y2="617.7" stroke="#000" stroke-width="1.2"/>
<line x1="251.8" y1="610.5" x2="256.2" y2="610.5" stroke="#000" stroke-width="1.2"/>
<rect x="247.5" y="617.7" width="13.50" height="84.80" fill="#000"/>
<line x1="267.5" y1="632.5" x2="267.5" y2="638.5" stroke="#000" stroke-width="1.2"/>
<line x1="264.8" y1="632.5" x2="269.2" y2="632.5" stroke="#000" stroke-width="1.2"/>
<rect x="261" y="638.5" width="12.50" height="64.50" fill="#fff"/>
<rect x="261.5" y="639.5" width="12.0" height="63.0" fill="none" stroke="#000" stroke-width="1.2"/>
<line x1="55.7" y1="703" x2="283.3" y2="703" stroke="#000" stroke-width="2"/>
<text x="73.29" y="716.00" font-family="Liberation Sans" font-weight="bold" font-style="normal" font-size="9.2" textLength="18.65" lengthAdjust="spacingAndGlyphs">0 hr</text>
<text x="161.54" y="716.00" font-family="Liberation Sans" font-weight="bold" font-style="normal" font-size="9.2" textLength="25.22" lengthAdjust="spacingAndGlyphs">48 hr</text>
<text x="202.74" y="716.00" font-family="Liberation Sans" font-weight="bold" font-style="normal" font-size="9.2" textLength="24.51" lengthAdjust="spacingAndGlyphs">96 hr</text>
<text x="242.60" y="716.00" font-family="Liberation Sans" font-weight="bold" font-style="normal" font-size="9.2" textLength="29.67" lengthAdjust="spacingAndGlyphs">144 hr</text>
<text x="63.84" y="730.20" font-family="Liberation Sans" font-weight="bold" font-style="normal" font-size="9.4" textLength="31.08" lengthAdjust="spacingAndGlyphs" style="stroke-width:0.1px">20% O</text>
<text x="94.69" y="732.90" font-family="Liberation Sans" font-weight="bold" font-style="normal" font-size="5.6" textLength="3.36" lengthAdjust="spacingAndGlyphs" style="stroke-width:0.05px">2</text>
<text x="123.33" y="730.20" font-family="Liberation Sans" font-weight="bold" font-style="normal" font-size="9.4" textLength="26.61" lengthAdjust="spacingAndGlyphs" style="stroke-width:0.1px">6% O</text>
<text x="149.69" y="732.90" font-family="Liberation Sans" font-weight="bold" font-style="normal" font-size="5.6" textLength="3.36" lengthAdjust="spacingAndGlyphs" style="stroke-width:0.05px">2</text>
<text x="207.84" y="730.20" font-family="Liberation Sans" font-weight="bold" font-style="normal" font-size="9.4" textLength="31.60" lengthAdjust="spacingAndGlyphs" style="stroke-width:0.1px">20% O</text>
<text x="239.19" y="732.90" font-family="Liberation Sans" font-weight="bold" font-style="normal" font-size="5.6" textLength="3.36" lengthAdjust="spacingAndGlyphs" style="stroke-width:0.05px">2</text>
<rect x="68.15" y="734.75" width="194.3" height="6.6" fill="#fff" stroke="#000" stroke-width="1.5"/>
<rect x="91.5" y="735.5" width="91.00" height="5.10" fill="#7c7c7c"/>
<line x1="91.5" y1="734.5" x2="91.5" y2="741.6" stroke="#000" stroke-width="1.3"/>
<line x1="182.5" y1="734.5" x2="182.5" y2="741.6" stroke="#000" stroke-width="1.3"/>
<text transform="rotate(-90)" x="-524.22" y="318.40" font-family="Liberation Sans" font-weight="bold" font-style="normal" font-size="9.6" textLength="90.19" lengthAdjust="spacingAndGlyphs" style="stroke-width:0.05px">Relative expression</text>
<text x="323.87" y="445.35" font-family="Liberation Sans" font-weight="bold" font-style="normal" font-size="9.0" textLength="10.01" lengthAdjust="spacingAndGlyphs">12</text>
<text x="323.87" y="457.70" font-family="Liberation Sans" font-weight="bold" font-style="normal" font-size="9.0" textLength="10.01" lengthAdjust="spacingAndGlyphs">10</text>
<text x="328.78" y="470.00" font-family="Liberation Sans" font-weight="bold" font-style="normal" font-size="9.0" textLength="5.01" lengthAdjust="spacingAndGlyphs">8</text>
<text x="328.82" y="482.41" font-family="Liberation Sans" font-weight="bold" font-style="normal" font-size="9.0" textLength="5.01" lengthAdjust="spacingAndGlyphs">6</text>
<text x="328.55" y="494.81" font-family="Liberation Sans" font-weight="bold" font-style="normal" font-size="9.0" textLength="5.01" lengthAdjust="spacingAndGlyphs">4</text>
<text x="328.87" y="507.25" font-family="Liberation Sans" font-weight="bold" font-style="normal" font-size="9.0" textLength="5.01" lengthAdjust="spacingAndGlyphs">2</text>
<text x="328.87" y="519.31" font-family="Liberation Sans" font-weight="bold" font-style="normal" font-size="9.0" textLength="5.01" lengthAdjust="spacingAndGlyphs">0</text>
<line x1="338.5" y1="441.5" x2="338.5" y2="515.4" stroke="#000" stroke-width="1.6"/>
<line x1="338" y1="442.5" x2="341.2" y2="442.5" stroke="#000" stroke-width="1.3"/>
<line x1="338" y1="454.5" x2="341.2" y2="454.5" stroke="#000" stroke-width="1.3"/>
<line x1="338" y1="466.5" x2="341.2" y2="466.5" stroke="#000" stroke-width="1.3"/>
<line x1="338" y1="479.5" x2="341.2" y2="479.5" stroke="#000" stroke-width="1.3"/>
<line x1="338" y1="491.5" x2="341.2" y2="491.5" stroke="#000" stroke-width="1.3"/>
<line x1="338" y1="503.5" x2="341.2" y2="503.5" stroke="#000" stroke-width="1.3"/>
<line x1="348.5" y1="508.7" x2="348.5" y2="509.5" stroke="#000" stroke-width="1.1"/>
<line x1="346.3" y1="508.5" x2="349.7" y2="508.5" stroke="#000" stroke-width="1.1"/>
<rect x="344" y="509.5" width="8.00" height="5.50" fill="#000"/>
<line x1="367.5" y1="445.5" x2="367.5" y2="453.8" stroke="#000" stroke-width="1.1"/>
<line x1="365.3" y1="445.5" x2="368.7" y2="445.5" stroke="#000" stroke-width="1.1"/>
<rect x="362.5" y="453.8" width="9.00" height="61.20" fill="#000"/>
<line x1="386.5" y1="507" x2="386.5" y2="507.5" stroke="#000" stroke-width="1.1"/>
<line x1="384.8" y1="507.5" x2="388.2" y2="507.5" stroke="#000" stroke-width="1.1"/>
<rect x="382.5" y="507.5" width="8.00" height="8.00" fill="#fff"/>
<rect x="383.5" y="508.5" width="7.0" height="7.0" fill="none" stroke="#000" stroke-width="1.2"/>
<line x1="405.5" y1="468.2" x2="405.5" y2="474" stroke="#000" stroke-width="1.1"/>
<line x1="403.8" y1="468.5" x2="407.2" y2="468.5" stroke="#000" stroke-width="1.1"/>
<rect x="401.25" y="474" width="8.25" height="41.50" fill="#fff"/>
<rect x="401.5" y="474.5" width="8.0" height="41.0" fill="none" stroke="#000" stroke-width="1.2"/>
<rect x="439.8" y="510.9" width="8.70" height="4.10" fill="#000"/>
<rect x="459" y="511.8" width="8.20" height="3.20" fill="#000"/>
<rect x="478.6" y="513.0" width="8.20" height="2.50" fill="#fff"/>
<rect x="479.5" y="513.5" width="7.0" height="2.0" fill="none" stroke="#000" stroke-width="1.2"/>
<line x1="502.5" y1="496.2" x2="502.5" y2="499.2" stroke="#000" stroke-width="1.1"/>
<line x1="500.8" y1="496.5" x2="504.2" y2="496.5" stroke="#000" stroke-width="1.1"/>
<rect x="498" y="499.2" width="8.50" height="16.30" fill="#fff"/>
<rect x="498.5" y="499.5" width="8.0" height="16.0" fill="none" stroke="#000" stroke-width="1.2"/>
<line x1="337.2" y1="515" x2="511.0" y2="515" stroke="#000" stroke-width="2"/>
<text x="344.05" y="525.40" font-family="Liberation Sans" font-weight="bold" font-style="normal" font-size="8.6" textLength="7.22" lengthAdjust="spacingAndGlyphs">N</text>
<text x="363.55" y="525.40" font-family="Liberation Sans" font-weight="bold" font-style="normal" font-size="8.6" textLength="7.22" lengthAdjust="spacingAndGlyphs">H</text>
<text x="383.05" y="525.40" font-family="Liberation Sans" font-weight="bold" font-style="normal" font-size="8.6" textLength="7.22" lengthAdjust="spacingAndGlyphs">N</text>
<text x="402.05" y="525.40" font-family="Liberation Sans" font-weight="bold" font-style="normal" font-size="8.6" textLength="7.22" lengthAdjust="spacingAndGlyphs">H</text>
<text x="440.55" y="525.40" font-family="Liberation Sans" font-weight="bold" font-style="normal" font-size="8.6" textLength="7.22" lengthAdjust="spacingAndGlyphs">N</text>
<text x="459.55" y="525.40" font-family="Liberation Sans" font-weight="bold" font-style="normal" font-size="8.6" textLength="7.22" lengthAdjust="spacingAndGlyphs">H</text>
<text x="479.55" y="525.40" font-family="Liberation Sans" font-weight="bold" font-style="normal" font-size="8.6" textLength="7.22" lengthAdjust="spacingAndGlyphs">N</text>
<text x="498.55" y="525.40" font-family="Liberation Sans" font-weight="bold" font-style="normal" font-size="8.6" textLength="7.22" lengthAdjust="spacingAndGlyphs">H</text>
<line x1="339.5" y1="528.5" x2="410" y2="528.5" stroke="#000" stroke-width="1.7"/>
<line x1="436" y1="528.5" x2="507.5" y2="528.5" stroke="#000" stroke-width="1.7"/>
<text x="359.58" y="537.70" font-family="Liberation Sans" font-weight="bold" font-style="normal" font-size="9.4" textLength="31.76" lengthAdjust="spacingAndGlyphs">Kidney</text>
<text x="461.59" y="537.70" font-family="Liberation Sans" font-weight="bold" font-style="normal" font-size="9.4" textLength="22.35" lengthAdjust="spacingAndGlyphs">Liver</text>
<polygon points="402.38,459.90 403.14,461.85 405.23,461.97 403.61,463.30 404.14,465.33 402.38,464.20 400.61,465.33 401.14,463.30 399.52,461.97 401.61,461.85" fill="#000"/>
<polygon points="408.62,459.90 409.39,461.85 411.48,461.97 409.86,463.30 410.39,465.33 408.62,464.20 406.86,465.33 407.39,463.30 405.77,461.97 407.86,461.85" fill="#000"/>
<polygon points="499.07,487.50 499.84,489.45 501.93,489.57 500.31,490.90 500.84,492.93 499.07,491.80 497.31,492.93 497.84,490.90 496.22,489.57 498.31,489.45" fill="#000"/>
<polygon points="505.32,487.50 506.09,489.45 508.18,489.57 506.56,490.90 507.09,492.93 505.32,491.80 503.56,492.93 504.09,490.90 502.47,489.57 504.56,489.45" fill="#000"/>
<text x="420.46" y="446.50" font-family="Liberation Sans" font-weight="bold" font-style="normal" font-size="10.2" textLength="21.48" lengthAdjust="spacingAndGlyphs">Epo</text>
<rect x="473.5" y="447.5" width="10.50" height="9.00" fill="#000"/>
<text x="491.86" y="455.40" font-family="Liberation Sans" font-weight="bold" font-style="italic" font-size="9.6" textLength="15.35" lengthAdjust="spacingAndGlyphs">WT</text>
<rect x="473.5" y="460.5" width="10.50" height="9.50" fill="#fff"/>
<rect x="474.5" y="461.5" width="9.0" height="8.0" fill="none" stroke="#000" stroke-width="1"/>
<text x="492.43" y="468.60" font-family="Liberation Sans" font-weight="bold" font-style="italic" font-size="9.6" textLength="28.87" lengthAdjust="spacingAndGlyphs">kd/kd</text>
<text transform="rotate(-90)" x="-631.03" y="318.20" font-family="Liberation Sans" font-weight="bold" font-style="normal" font-size="9.6" textLength="90.39" lengthAdjust="spacingAndGlyphs" style="stroke-width:0.05px">Relative expression</text>
<text x="324.41" y="554.11" font-family="Liberation Sans" font-weight="bold" font-style="normal" font-size="9.0" textLength="12.76" lengthAdjust="spacingAndGlyphs">2.0</text>
<text x="324.27" y="572.76" font-family="Liberation Sans" font-weight="bold" font-style="normal" font-size="9.0" textLength="12.76" lengthAdjust="spacingAndGlyphs">1.5</text>
<text x="324.41" y="591.31" font-family="Liberation Sans" font-weight="bold" font-style="normal" font-size="9.0" textLength="12.76" lengthAdjust="spacingAndGlyphs">1.0</text>
<text x="324.27" y="609.81" font-family="Liberation Sans" font-weight="bold" font-style="normal" font-size="9.0" textLength="12.76" lengthAdjust="spacingAndGlyphs">0.5</text>
<text x="332.07" y="628.31" font-family="Liberation Sans" font-weight="bold" font-style="normal" font-size="9.0" textLength="5.11" lengthAdjust="spacingAndGlyphs">0</text>
<line x1="341.5" y1="550.3" x2="341.5" y2="624.8" stroke="#000" stroke-width="1.6"/>
<line x1="341.5" y1="550.5" x2="344.7" y2="550.5" stroke="#000" stroke-width="1.3"/>
<line x1="341.5" y1="569.5" x2="344.7" y2="569.5" stroke="#000" stroke-width="1.3"/>
<line x1="341.5" y1="588.5" x2="344.7" y2="588.5" stroke="#000" stroke-width="1.3"/>
<line x1="341.5" y1="606.5" x2="344.7" y2="606.5" stroke="#000" stroke-width="1.3"/>
<line x1="351.5" y1="576.5" x2="351.5" y2="587.5" stroke="#000" stroke-width="1.1"/>
<line x1="349.55" y1="576.5" x2="352.95" y2="576.5" stroke="#000" stroke-width="1.1"/>
<rect x="347" y="587.5" width="8.50" height="37.00" fill="#000"/>
<line x1="370.5" y1="556.5" x2="370.5" y2="570.5" stroke="#000" stroke-width="1.1"/>
<line x1="368.55" y1="556.5" x2="371.95" y2="556.5" stroke="#000" stroke-width="1.1"/>
<rect x="366" y="570.5" width="8.50" height="54.00" fill="#000"/>
<line x1="389.5" y1="578.5" x2="389.5" y2="596.5" stroke="#000" stroke-width="1.1"/>
<line x1="388.05" y1="578.5" x2="391.45" y2="578.5" stroke="#000" stroke-width="1.1"/>
<rect x="385.5" y="596.5" width="8.50" height="28.50" fill="#fff"/>
<rect x="386.5" y="597.5" width="7.0" height="27.0" fill="none" stroke="#000" stroke-width="1.2"/>
<line x1="408.5" y1="579.5" x2="408.5" y2="586" stroke="#000" stroke-width="1.1"/>
<line x1="407.05" y1="579.5" x2="410.45" y2="579.5" stroke="#000" stroke-width="1.1"/>
<rect x="404.5" y="586" width="8.50" height="39.00" fill="#fff"/>
<rect x="405.5" y="586.5" width="7.0" height="38.0" fill="none" stroke="#000" stroke-width="1.2"/>
<rect x="443.5" y="622" width="8.00" height="2.50" fill="#000"/>
<line x1="466.5" y1="614" x2="466.5" y2="615" stroke="#000" stroke-width="1.1"/>
<line x1="465.0" y1="614.5" x2="468.4" y2="614.5" stroke="#000" stroke-width="1.1"/>
<rect x="462.5" y="615" width="8.50" height="9.50" fill="#000"/>
<rect x="482" y="623.2" width="8.00" height="1.80" fill="#fff"/>
<rect x="482.5" y="623.5" width="7.0" height="1.0" fill="none" stroke="#000" stroke-width="1.2"/>
<line x1="505.5" y1="604.5" x2="505.5" y2="608" stroke="#000" stroke-width="1.1"/>
<line x1="503.8" y1="604.5" x2="507.2" y2="604.5" stroke="#000" stroke-width="1.1"/>
<rect x="501.5" y="608" width="8.00" height="17.00" fill="#fff"/>
<rect x="502.5" y="608.5" width="7.0" height="16.0" fill="none" stroke="#000" stroke-width="1.2"/>
<line x1="340.7" y1="625" x2="514.5" y2="625" stroke="#000" stroke-width="2"/>
<text x="347.95" y="634.50" font-family="Liberation Sans" font-weight="bold" font-style="normal" font-size="8.6" textLength="7.22" lengthAdjust="spacingAndGlyphs">N</text>
<text x="367.45" y="634.50" font-family="Liberation Sans" font-weight="bold" font-style="normal" font-size="8.6" textLength="7.22" lengthAdjust="spacingAndGlyphs">H</text>
<text x="386.95" y="634.50" font-family="Liberation Sans" font-weight="bold" font-style="normal" font-size="8.6" textLength="7.22" lengthAdjust="spacingAndGlyphs">N</text>
<text x="405.45" y="634.50" font-family="Liberation Sans" font-weight="bold" font-style="normal" font-size="8.6" textLength="7.22" lengthAdjust="spacingAndGlyphs">H</text>
<text x="444.55" y="634.50" font-family="Liberation Sans" font-weight="bold" font-style="normal" font-size="8.6" textLength="7.22" lengthAdjust="spacingAndGlyphs">N</text>
<text x="464.05" y="634.50" font-family="Liberation Sans" font-weight="bold" font-style="normal" font-size="8.6" textLength="7.22" lengthAdjust="spacingAndGlyphs">H</text>
<text x="483.55" y="634.50" font-family="Liberation Sans" font-weight="bold" font-style="normal" font-size="8.6" textLength="7.22" lengthAdjust="spacingAndGlyphs">N</text>
<text x="502.55" y="634.50" font-family="Liberation Sans" font-weight="bold" font-style="normal" font-size="8.6" textLength="7.22" lengthAdjust="spacingAndGlyphs">H</text>
<line x1="343" y1="637.5" x2="414" y2="637.5" stroke="#000" stroke-width="1.7"/>
<line x1="439.5" y1="637.5" x2="511" y2="637.5" stroke="#000" stroke-width="1.7"/>
<text x="363.58" y="647.70" font-family="Liberation Sans" font-weight="bold" font-style="normal" font-size="9.4" textLength="31.76" lengthAdjust="spacingAndGlyphs">Kidney</text>
<text x="463.99" y="649.80" font-family="Liberation Sans" font-weight="bold" font-style="normal" font-size="9.4" textLength="22.56" lengthAdjust="spacingAndGlyphs">Liver</text>
<polygon points="463.18,605.50 463.94,607.45 466.03,607.57 464.41,608.90 464.94,610.93 463.18,609.80 461.41,610.93 461.94,608.90 460.32,607.57 462.41,607.45" fill="#000"/>
<polygon points="469.43,605.50 470.19,607.45 472.28,607.57 470.66,608.90 471.19,610.93 469.43,609.80 467.66,610.93 468.19,608.90 466.57,607.57 468.66,607.45" fill="#000"/>
<polygon points="505.70,595.70 506.46,597.65 508.55,597.77 506.94,599.10 507.46,601.13 505.70,600.00 503.94,601.13 504.46,599.10 502.85,597.77 504.94,597.65" fill="#000"/>
<text x="414.19" y="558.00" font-family="Liberation Sans" font-weight="bold" font-style="normal" font-size="10.00" textLength="27.24" lengthAdjust="spacingAndGlyphs" style="stroke-width:0.1px">HIF-1</text>
<text x="441.43" y="558.20" font-family="Liberation Serif" font-weight="normal" font-style="italic" font-size="11.50" textLength="6.58" lengthAdjust="spacingAndGlyphs" style="stroke-width:0.1px">α</text>
<text transform="rotate(-90)" x="-745.03" y="317.40" font-family="Liberation Sans" font-weight="bold" font-style="normal" font-size="9.6" textLength="90.59" lengthAdjust="spacingAndGlyphs" style="stroke-width:0.05px">Relative expression</text>
<text x="324.41" y="658.31" font-family="Liberation Sans" font-weight="bold" font-style="normal" font-size="9.0" textLength="12.76" lengthAdjust="spacingAndGlyphs">3.0</text>
<text x="324.27" y="670.51" font-family="Liberation Sans" font-weight="bold" font-style="normal" font-size="9.0" textLength="12.76" lengthAdjust="spacingAndGlyphs">2.5</text>
<text x="324.41" y="682.81" font-family="Liberation Sans" font-weight="bold" font-style="normal" font-size="9.0" textLength="12.76" lengthAdjust="spacingAndGlyphs">2.0</text>
<text x="324.27" y="695.06" font-family="Liberation Sans" font-weight="bold" font-style="normal" font-size="9.0" textLength="12.76" lengthAdjust="spacingAndGlyphs">1.5</text>
<text x="324.41" y="707.41" font-family="Liberation Sans" font-weight="bold" font-style="normal" font-size="9.0" textLength="12.76" lengthAdjust="spacingAndGlyphs">1.0</text>
<text x="324.27" y="719.71" font-family="Liberation Sans" font-weight="bold" font-style="normal" font-size="9.0" textLength="12.76" lengthAdjust="spacingAndGlyphs">0.5</text>
<text x="332.07" y="731.81" font-family="Liberation Sans" font-weight="bold" font-style="normal" font-size="9.0" textLength="5.11" lengthAdjust="spacingAndGlyphs">0</text>
<line x1="341.5" y1="654.5" x2="341.5" y2="728.75" stroke="#000" stroke-width="1.6"/>
<line x1="341.5" y1="655.5" x2="344.7" y2="655.5" stroke="#000" stroke-width="1.3"/>
<line x1="341.5" y1="667.5" x2="344.7" y2="667.5" stroke="#000" stroke-width="1.3"/>
<line x1="341.5" y1="679.5" x2="344.7" y2="679.5" stroke="#000" stroke-width="1.3"/>
<line x1="341.5" y1="691.5" x2="344.7" y2="691.5" stroke="#000" stroke-width="1.3"/>
<line x1="341.5" y1="704.5" x2="344.7" y2="704.5" stroke="#000" stroke-width="1.3"/>
<line x1="341.5" y1="716.5" x2="344.7" y2="716.5" stroke="#000" stroke-width="1.3"/>
<line x1="351.5" y1="692" x2="351.5" y2="703.5" stroke="#000" stroke-width="1.1"/>
<line x1="349.55" y1="692.5" x2="352.95" y2="692.5" stroke="#000" stroke-width="1.1"/>
<rect x="347" y="703.5" width="8.50" height="25.00" fill="#000"/>
<line x1="370.5" y1="668" x2="370.5" y2="679.5" stroke="#000" stroke-width="1.1"/>
<line x1="368.55" y1="668.5" x2="371.95" y2="668.5" stroke="#000" stroke-width="1.1"/>
<rect x="366" y="679.5" width="8.50" height="49.00" fill="#000"/>
<line x1="389.5" y1="721.5" x2="389.5" y2="722.5" stroke="#000" stroke-width="1.1"/>
<line x1="388.05" y1="721.5" x2="391.45" y2="721.5" stroke="#000" stroke-width="1.1"/>
<rect x="385.5" y="722.5" width="8.50" height="6.50" fill="#fff"/>
<rect x="386.5" y="723.5" width="7.0" height="5.0" fill="none" stroke="#000" stroke-width="1.2"/>
<line x1="408.5" y1="712.5" x2="408.5" y2="715" stroke="#000" stroke-width="1.1"/>
<line x1="407.05" y1="712.5" x2="410.45" y2="712.5" stroke="#000" stroke-width="1.1"/>
<rect x="404.5" y="715" width="8.50" height="14.00" fill="#fff"/>
<rect x="405.5" y="715.5" width="7.0" height="13.0" fill="none" stroke="#000" stroke-width="1.2"/>
<line x1="447.5" y1="718.7" x2="447.5" y2="722.5" stroke="#000" stroke-width="1.1"/>
<line x1="445.6" y1="718.5" x2="449.0" y2="718.5" stroke="#000" stroke-width="1.1"/>
<rect x="443" y="722.5" width="8.50" height="6.00" fill="#000"/>
<line x1="466.5" y1="721.5" x2="466.5" y2="724.5" stroke="#000" stroke-width="1.1"/>
<line x1="465.1" y1="721.5" x2="468.5" y2="721.5" stroke="#000" stroke-width="1.1"/>
<rect x="462.5" y="724.5" width="8.50" height="4.00" fill="#000"/>
<line x1="486.5" y1="725.5" x2="486.5" y2="727.5" stroke="#000" stroke-width="1.1"/>
<line x1="484.3" y1="725.5" x2="487.7" y2="725.5" stroke="#000" stroke-width="1.1"/>
<rect x="482" y="727.5" width="8.00" height="1.50" fill="#fff"/>
<rect x="482.5" y="728.5" width="7.0" height="0.0" fill="none" stroke="#000" stroke-width="1.2"/>
<line x1="505.5" y1="719.5" x2="505.5" y2="724" stroke="#000" stroke-width="1.1"/>
<line x1="503.8" y1="719.5" x2="507.2" y2="719.5" stroke="#000" stroke-width="1.1"/>
<rect x="501.5" y="724" width="8.00" height="5.00" fill="#fff"/>
<rect x="502.5" y="724.5" width="7.0" height="4.0" fill="none" stroke="#000" stroke-width="1.2"/>
<line x1="340.7" y1="729" x2="514.5" y2="729" stroke="#000" stroke-width="2"/>
<text x="347.95" y="738.60" font-family="Liberation Sans" font-weight="bold" font-style="normal" font-size="8.6" textLength="7.22" lengthAdjust="spacingAndGlyphs">N</text>
<text x="367.45" y="738.60" font-family="Liberation Sans" font-weight="bold" font-style="normal" font-size="8.6" textLength="7.22" lengthAdjust="spacingAndGlyphs">H</text>
<text x="386.95" y="738.60" font-family="Liberation Sans" font-weight="bold" font-style="normal" font-size="8.6" textLength="7.22" lengthAdjust="spacingAndGlyphs">N</text>
<text x="405.45" y="738.60" font-family="Liberation Sans" font-weight="bold" font-style="normal" font-size="8.6" textLength="7.22" lengthAdjust="spacingAndGlyphs">H</text>
<text x="444.05" y="738.60" font-family="Liberation Sans" font-weight="bold" font-style="normal" font-size="8.6" textLength="7.22" lengthAdjust="spacingAndGlyphs">N</text>
<text x="464.05" y="738.60" font-family="Liberation Sans" font-weight="bold" font-style="normal" font-size="8.6" textLength="7.22" lengthAdjust="spacingAndGlyphs">H</text>
<text x="483.55" y="738.60" font-family="Liberation Sans" font-weight="bold" font-style="normal" font-size="8.6" textLength="7.22" lengthAdjust="spacingAndGlyphs">N</text>
<text x="502.55" y="738.60" font-family="Liberation Sans" font-weight="bold" font-style="normal" font-size="8.6" textLength="7.22" lengthAdjust="spacingAndGlyphs">H</text>
<line x1="343" y1="742.5" x2="414" y2="742.5" stroke="#000" stroke-width="1.7"/>
<line x1="439" y1="742.5" x2="510.5" y2="742.5" stroke="#000" stroke-width="1.7"/>
<text x="363.59" y="754.50" font-family="Liberation Sans" font-weight="bold" font-style="normal" font-size="9.4" textLength="31.45" lengthAdjust="spacingAndGlyphs">Kidney</text>
<text x="463.99" y="754.50" font-family="Liberation Sans" font-weight="bold" font-style="normal" font-size="9.4" textLength="22.56" lengthAdjust="spacingAndGlyphs">Liver</text>
<polygon points="405.38,704.60 406.14,706.55 408.23,706.67 406.61,708.00 407.14,710.03 405.38,708.90 403.61,710.03 404.14,708.00 402.52,706.67 404.61,706.55" fill="#000"/>
<polygon points="411.62,704.60 412.39,706.55 414.48,706.67 412.86,708.00 413.39,710.03 411.62,708.90 409.86,710.03 410.39,708.00 408.77,706.67 410.86,706.55" fill="#000"/>
<text x="414.18" y="673.40" font-family="Liberation Sans" font-weight="bold" font-style="normal" font-size="10.00" textLength="27.57" lengthAdjust="spacingAndGlyphs" style="stroke-width:0.1px">HIF-2</text>
<text x="441.75" y="673.60" font-family="Liberation Serif" font-weight="normal" font-style="italic" font-size="11.50" textLength="6.66" lengthAdjust="spacingAndGlyphs" style="stroke-width:0.1px">α</text>
</svg>
</body></html>
